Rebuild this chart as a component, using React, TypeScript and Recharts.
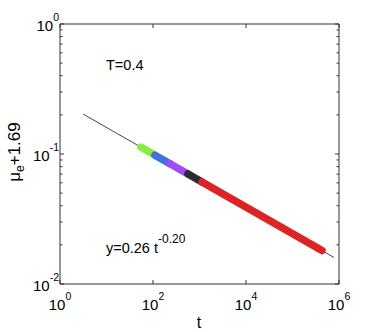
import React from 'react';
import { LineChart, Line, XAxis, YAxis } from 'recharts';

// Tick values
const X_TICKS = [1, 100, 10000, 1000000];
const Y_TICKS = [
  0.01, 0.02, 0.03, 0.04, 0.05, 0.06, 0.07, 0.08, 0.09,
  0.1, 0.2, 0.3, 0.4, 0.5, 0.6, 0.7, 0.8, 0.9, 1,
];

// Fit line y = 0.26 t^-0.20 (endpoints)
const fitT = [3.12, 780000];
const fitY = [0.203, 0.016];

// Data segments
const greenT = [55, 110];
const greenY = [0.113, 0.098];
const blueT = [110, 232];
const blueY = [0.098, 0.0842];
const purpleT = [232, 566];
const purpleY = [0.0842, 0.0702];
const blackT = [566, 1132];
const blackY = [0.0702, 0.0609];
const redT = [1132, 431000];
const redY = [0.0609, 0.0181];

const pts = (ts: number[], ys: number[]) => ts.map((t, i) => ({ t, y: ys[i] }));

const FONT = "'Liberation Sans', Arial, Helvetica, sans-serif";
const AX = '#333';

const isDecade = (v: number) => Math.abs(Math.log10(v) - Math.round(Math.log10(v))) < 1e-6;

const LeftTick = (props: any) => {
  const { x, y, payload } = props;
  const v = payload.value;
  const major = isDecade(v);
  const e = Math.round(Math.log10(v));
  return (
    <g>
      <line x1={x} x2={x + (major ? 4 : 2.5)} y1={y} y2={y} stroke={AX} strokeWidth={1} />
      {major && (
        <text x={x - 1} y={y + 7} textAnchor="end" fontFamily={FONT} fontSize={15} fill="#000">
          10<tspan dy={-10} fontSize={10.5}>{String(e)}</tspan>
        </text>
      )}
    </g>
  );
};

const RightTick = (props: any) => {
  const { x, y, payload } = props;
  const major = isDecade(payload.value);
  return <line x1={x} x2={x - (major ? 4 : 2.5)} y1={y} y2={y} stroke={AX} strokeWidth={1} />;
};

const BottomTick = (props: any) => {
  const { x, y, payload } = props;
  const e = Math.round(Math.log10(payload.value));
  return (
    <g>
      <line x1={x} x2={x} y1={y} y2={y - 4} stroke={AX} strokeWidth={1} />
      <text x={x} y={y + 26} textAnchor="middle" fontFamily={FONT} fontSize={15} fill="#000">
        10<tspan dy={-10} fontSize={10.5}>{String(e)}</tspan>
      </text>
    </g>
  );
};

const TopTick = (props: any) => {
  const { x, y } = props;
  return <line x1={x} x2={x} y1={y} y2={y + 4} stroke={AX} strokeWidth={1} />;
};

export default function App() {
  return (
    <div style={{ position: 'absolute', left: 0, top: 0, width: 374, height: 332, background: '#fff' }}>
      <LineChart width={374} height={332} margin={{ top: 0, right: 0, bottom: 0, left: 0 }}>
        <XAxis
          dataKey="t"
          type="number"
          scale="log"
          domain={[1, 1000000]}
          allowDataOverflow
          ticks={X_TICKS}
          interval={0}
          height={48}
          tickSize={0}
          tickMargin={0}
          axisLine={{ stroke: AX }}
          tickLine={false}
          tick={<BottomTick />}
        />
        <XAxis
          xAxisId="top"
          orientation="top"
          dataKey="t"
          type="number"
          scale="log"
          domain={[1, 1000000]}
          allowDataOverflow
          ticks={X_TICKS}
          interval={0}
          height={24}
          tickSize={0}
          tickMargin={0}
          axisLine={{ stroke: AX }}
          tickLine={false}
          tick={<TopTick />}
        />
        <YAxis
          type="number"
          scale="log"
          domain={[0.01, 1]}
          allowDataOverflow
          ticks={Y_TICKS}
          interval={0}
          width={60}
          tickSize={0}
          tickMargin={0}
          axisLine={{ stroke: AX }}
          tickLine={false}
          tick={<LeftTick />}
        />
        <YAxis
          yAxisId="right"
          orientation="right"
          type="number"
          scale="log"
          domain={[0.01, 1]}
          allowDataOverflow
          ticks={Y_TICKS}
          interval={0}
          width={35}
          tickSize={0}
          tickMargin={0}
          axisLine={{ stroke: AX }}
          tickLine={false}
          tick={<RightTick />}
        />
        <Line data={pts(fitT, fitY)} dataKey="y" type="linear" stroke="#333" strokeWidth={0.9} dot={false} isAnimationActive={false} />
        <Line data={pts(greenT, greenY)} dataKey="y" type="linear" stroke="#86ee3e" strokeWidth={7.5} strokeLinecap="round" dot={false} isAnimationActive={false} />
        <Line data={pts(blueT, blueY)} dataKey="y" type="linear" stroke="#3b72dc" strokeWidth={7.5} strokeLinecap="round" dot={false} isAnimationActive={false} />
        <Line data={pts(purpleT, purpleY)} dataKey="y" type="linear" stroke="#a04cf2" strokeWidth={7.5} strokeLinecap="round" dot={false} isAnimationActive={false} />
        <Line data={pts(blackT, blackY)} dataKey="y" type="linear" stroke="#2e2a33" strokeWidth={7.5} strokeLinecap="round" dot={false} isAnimationActive={false} />
        <Line data={pts(redT, redY)} dataKey="y" type="linear" stroke="#dc2424" strokeWidth={7.5} strokeLinecap="round" dot={false} isAnimationActive={false} />
      </LineChart>
      <svg width={374} height={332} style={{ position: 'absolute', left: 0, top: 0, pointerEvents: 'none' }}>
        <text x={106} y={70} fontFamily={FONT} fontSize={14.5} fill="#000">T=0.4</text>
        <text x={106} y={253} fontFamily={FONT} fontSize={14.5} fill="#000">
          y=0.26 t<tspan dy={-10} fontSize={12}>-0.20</tspan>
        </text>
        <text x={199} y={328} textAnchor="middle" fontFamily={FONT} fontSize={16} fill="#000">t</text>
        <text transform="translate(20,152) rotate(-90)" textAnchor="middle" fontFamily={FONT} fontSize={17} fill="#000">
          μ<tspan dy={4} fontSize={12}>e</tspan><tspan dy={-4}>+1.69</tspan>
        </text>
      </svg>
    </div>
  );
}
